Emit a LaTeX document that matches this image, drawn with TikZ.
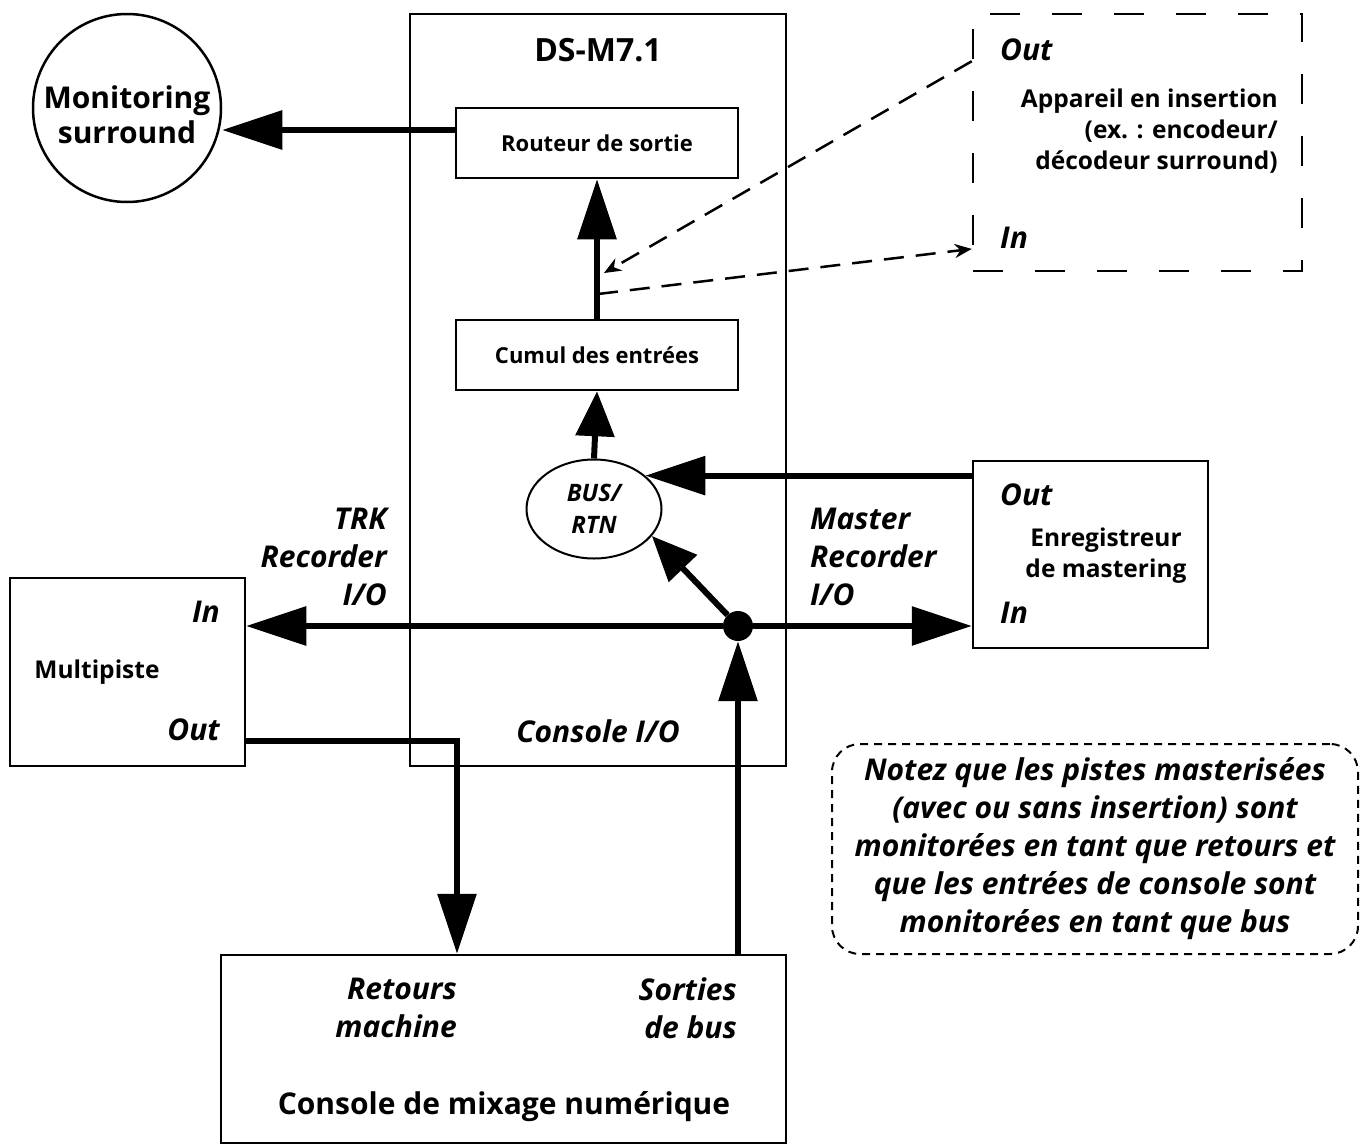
\documentclass[tikz,border=0pt]{standalone}
\usepackage{fontspec}
\setmainfont{Open Sans}
\usetikzlibrary{arrows.meta,shapes.geometric}

\tikzset{
  box/.style={draw,line width=2.5pt,inner sep=0pt},
  sig/.style={line width=6pt,-{Triangle[length=60pt,width=38pt]}},
  sigs/.style={line width=6pt,-{Triangle[length=45pt,width=38pt]}},
  dsig/.style={line width=2.5pt,dash pattern=on 20pt off 12pt,-{Stealth[length=17pt,width=14pt]}},
  lbl/.style={font=\fontsize{30}{38}\selectfont\bfseries\itshape,inner sep=0pt},
  txt/.style={font=\fontsize{24.5}{31}\selectfont\bfseries,inner sep=0pt},
  stxt/.style={font=\fontsize{22}{28}\selectfont\bfseries,inner sep=0pt}
}

\begin{document}
\begin{tikzpicture}[x=1pt,y=-1pt]
  \useasboundingbox (0,0) rectangle (1365,1146);
  % DS-M7.1
  \node[box,minimum width=376pt,minimum height=752pt] (ds) at (598,390){};
  \node[font=\fontsize{32}{38}\selectfont\bfseries] (dstitle) at (598,50){DS-M7.1};
  \node[box,stxt,minimum width=282pt,minimum height=70pt] (rout) at (597,143){Routeur de sortie};
  \node[box,stxt,minimum width=282pt,minimum height=70pt] (cumul) at (597,355){Cumul des entrées};
  \node[draw,line width=2pt,ellipse,minimum width=135pt,minimum height=99pt,inner sep=0pt,
    font=\fontsize{24}{32}\selectfont\bfseries\itshape,align=center] (bus) at (594,509){BUS/\\RTN};
  \node[lbl] (consio) at (598,731){Console I/O};
  \node[circle,fill,minimum size=30pt,inner sep=0pt] (dot) at (738,626){};
  \coordinate (tapret) at (604,273);
  \coordinate (tapsend) at (598,294);
  % monitoring
  \node[box,circle,minimum size=188pt] (mon) at (127,108){};
  \node[align=center,font=\fontsize{30}{35}\selectfont\bfseries] (montext) at (127,115){Monitoring\\surround};
  \coordinate (routout) at (456,130);
  % insertion
  \node[box,dash pattern=on 30pt off 32pt,minimum width=329pt,minimum height=257pt] (ins) at (1137.5,142.5){};
  \node[lbl,anchor=west] (insout) at (1000,50){Out};
  \node[lbl,anchor=west] (insin) at (1000,238){In};
  \node[txt,anchor=east,align=right] (instext) at (1278,131){Appareil en insertion\\(ex. : encodeur/\\décodeur surround)};
  % mastering
  \node[box,minimum width=235pt,minimum height=187pt] (enr) at (1090.5,554.5){};
  \node[lbl,anchor=west] (enrout) at (1000,495){Out};
  \node[lbl,anchor=west] (enrin) at (1000,613){In};
  \node[txt,align=center] (enrtext) at (1106,556){Enregistreur\\de mastering};
  \node[lbl,anchor=west,align=left] (master) at (810,557){Master\\Recorder\\I/O};
  % multipiste
  \node[box,minimum width=235pt,minimum height=188pt] (multi) at (127.5,672){};
  \node[lbl,anchor=east] (multiin) at (220,612){In};
  \node[lbl,anchor=east] (multiout) at (220,730){Out};
  \node[txt] (multitext) at (97,672){Multipiste};
  \node[lbl,anchor=east,align=right] (trk) at (387,557){TRK\\Recorder\\I/O};
  % console
  \node[box,minimum width=565pt,minimum height=188pt] (console) at (503.5,1049){};
  \node[lbl,anchor=east,align=right] (ret) at (457,1008){Retours\\machine};
  \node[lbl,anchor=east,align=right] (sort) at (737,1008){Sorties\\de bus};
  \node[font=\fontsize{30}{34}\selectfont\bfseries] (mix) at (504,1107){Console de mixage numérique};
  % note
  \node[draw,line width=2pt,dash pattern=on 8pt off 6pt,rounded corners=28pt,
    minimum width=526pt,minimum height=210pt,lbl,align=center] (note) at (1095,849)
    {Notez que les pistes masterisées\\(avec ou sans insertion) sont\\monitorées en tant que retours et\\que les entrées de console sont\\monitorées en tant que bus};
  % signal paths
  \draw[sig] (routout) -- (mon.east |- routout);
  \draw[sig] (cumul.north) -- (rout.south);
  \draw[sigs] (bus.north) -- (cumul.south);
  \draw[sig] (enr.west |- bus.33) -- (bus.33);
  \draw[sigs] (dot) -- (bus.-25);
  \draw[sig] (dot) -- (multi.east |- dot);
  \draw[sig] (dot) -- (enr.west |- dot);
  \draw[sig] (console.north -| dot) -- (dot);
  \draw[sig] (multi.east |- multiout.south) -| (console.north -| ret.east);
  \draw[dsig] (ins.west |- insout.south) -- (tapret);
  \draw[dsig] (tapsend) -- (ins.west |- insin.south);
\end{tikzpicture}
\end{document}
